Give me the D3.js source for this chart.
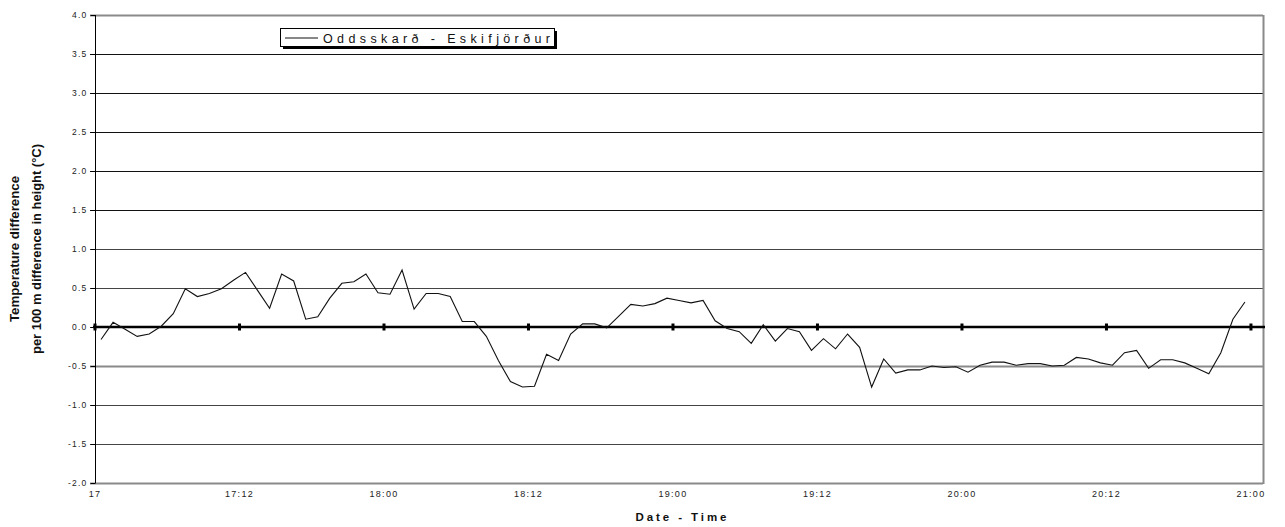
<!DOCTYPE html>
<html>
<head>
<meta charset="utf-8">
<script src="https://cdn.jsdelivr.net/npm/d3@7/dist/d3.min.js"></script>
<style>
  html, body { margin: 0; padding: 0; background: #fff; }
  svg { display: block; font-family: "Liberation Sans", Arial, sans-serif; }
</style>
</head>
<body>
<svg id="chart" width="1285" height="527"></svg>
<script>
// ---- data ----
const seriesName = "Oddsskarð - Eskifjörður";
const tickLabels = ["17", "17:12", "18:00", "18:12", "19:00", "19:12", "20:00", "20:12", "21:00"];
const categoryCount = 97;        // categories on the axis (last one empty)
const ticksEvery = 12;           // a label every 12 categories
const values = [
  -0.16, 0.06, -0.03, -0.12, -0.09, 0.01, 0.17, 0.49, 0.39, 0.43,
   0.49, 0.60, 0.70, 0.47, 0.24, 0.68, 0.59, 0.10, 0.13, 0.37,
   0.56, 0.58, 0.68, 0.44, 0.42, 0.73, 0.23, 0.43, 0.43, 0.39,
   0.07, 0.07, -0.12, -0.43, -0.70, -0.77, -0.76, -0.35, -0.43, -0.09,
   0.04, 0.04, -0.01, 0.14, 0.29, 0.27, 0.30, 0.37, 0.34, 0.31,
   0.34, 0.08, -0.02, -0.06, -0.21, 0.03, -0.18, -0.02, -0.06, -0.30,
  -0.15, -0.28, -0.09, -0.26, -0.77, -0.41, -0.59, -0.55, -0.55, -0.50,
  -0.52, -0.51, -0.58, -0.49, -0.45, -0.45, -0.49, -0.47, -0.47, -0.50,
  -0.49, -0.39, -0.41, -0.46, -0.49, -0.33, -0.30, -0.53, -0.42, -0.42,
  -0.46, -0.53, -0.60, -0.33, 0.10, 0.32
];
const yTicks = [4.0, 3.5, 3.0, 2.5, 2.0, 1.5, 1.0, 0.5, 0.0, -0.5, -1.0, -1.5, -2.0];
const yTitle = ["Temperature difference", "per 100 m difference in height (°C)"];
const xTitle = "Date - Time";

// ---- layout ----
const svg = d3.select("#chart");
const pL = 95, pR = 1263, pT = 15, pB = 483;

const x = d3.scaleBand().domain(d3.range(categoryCount)).range([pL, pR]).padding(0);
const y = d3.scaleLinear().domain([-2, 4]).range([pB, pT]);
const cx = i => x(i) + x.bandwidth() / 2;

// gridlines
const grid = svg.append("g");
yTicks.forEach(v => {
  const border = (v === 4 || v === -2);
  const grey = (v === -0.5);
  grid.append("line")
    .attr("x1", pL - 5).attr("x2", pR)
    .attr("y1", Math.round(y(v)) + 0.5).attr("y2", Math.round(y(v)) + 0.5)
    .attr("stroke", border || grey ? "#8a8a8a" : (v > 1 ? "#111" : "#444"))
    .attr("stroke-width", border || grey ? 2 : 1);
});
// right border
svg.append("line")
  .attr("x1", pR + 0.5).attr("x2", pR + 0.5)
  .attr("y1", pT).attr("y2", pB + 1)
  .attr("stroke", "#8a8a8a").attr("stroke-width", 2);

// y axis
const yAxis = d3.axisLeft(y).tickValues(yTicks).tickSize(5).tickPadding(3)
  .tickFormat(d => d.toFixed(1));
const yg = svg.append("g").attr("transform", `translate(${pL + 0.5},0)`).call(yAxis);
yg.select(".domain").attr("stroke", "#000").attr("d", `M0,${pT}V${pB}`);
yg.selectAll(".tick line").attr("stroke", "#000");
yg.selectAll(".tick text")
  .attr("font-size", 8.5).attr("fill", "#222")
  .style("letter-spacing", "1.2px").attr("font-family", "Liberation Sans, Arial, sans-serif");

// x axis labels (ticks on the zero line)
const tickIdx = tickLabels.map((_, k) => k * ticksEvery);
const xAxis = d3.axisBottom(x).tickValues(tickIdx).tickSize(0).tickPadding(0)
  .tickFormat((d, k) => tickLabels[k]);
const xg = svg.append("g").attr("transform", `translate(0,${pB + 8})`).call(xAxis);
xg.select(".domain").remove();
xg.selectAll(".tick").attr("transform", d => `translate(${x(d)},0)`);
xg.selectAll(".tick text")
  .attr("font-size", 9).attr("fill", "#222")
  .style("letter-spacing", "1.3px").attr("font-family", "Liberation Sans, Arial, sans-serif");

// zero line with tick marks
svg.append("line")
  .attr("x1", pL - 2).attr("x2", pR + 2)
  .attr("y1", y(0)).attr("y2", y(0))
  .attr("stroke", "#000").attr("stroke-width", 2.5);
svg.append("g").selectAll("rect").data(tickIdx).join("rect")
  .attr("x", d => x(d) - 1.5).attr("y", y(0) - 3.5)
  .attr("width", 3).attr("height", 7).attr("fill", "#000");

// series line
const line = d3.line().x((d, i) => cx(i)).y(d => y(d));
svg.append("path").datum(values)
  .attr("d", line).attr("fill", "none")
  .attr("stroke", "#111").attr("stroke-width", 1.1).attr("stroke-linejoin", "miter");

// y title
const yt = svg.append("text")
  .attr("transform", `translate(0,${(pT + pB) / 2}) rotate(-90)`)
  .attr("text-anchor", "middle").attr("font-weight", "bold").attr("font-size", 12).attr("fill", "#111");
yt.append("tspan").attr("x", 0).attr("y", 19).attr("textLength", 146).attr("lengthAdjust", "spacingAndGlyphs").text(yTitle[0]);
yt.append("tspan").attr("x", 0).attr("y", 41).attr("textLength", 210).attr("lengthAdjust", "spacingAndGlyphs").text(yTitle[1]);

// x title
svg.append("text")
  .attr("x", (pL + pR) / 2 + 2).attr("y", 521)
  .attr("text-anchor", "middle").attr("font-weight", "bold").attr("font-size", 11.5).attr("fill", "#111")
  .attr("textLength", 91).attr("lengthAdjust", "spacing")
  .text(xTitle);

// legend
const lg = svg.append("g");
lg.append("rect").attr("x", 283).attr("y", 31).attr("width", 274).attr("height", 18).attr("fill", "#000");
lg.append("rect").attr("x", 280.5).attr("y", 28.5).attr("width", 274).attr("height", 18)
  .attr("fill", "#fff").attr("stroke", "#000").attr("stroke-width", 1);
lg.append("line").attr("x1", 285).attr("x2", 318).attr("y1", 38).attr("y2", 38)
  .attr("stroke", "#111").attr("stroke-width", 1);
lg.append("text").attr("x", 323).attr("y", 42.5)
  .attr("font-size", 12.5).attr("fill", "#111")
  .attr("textLength", 227).attr("lengthAdjust", "spacing")
  .text(seriesName);
</script>
</body>
</html>
